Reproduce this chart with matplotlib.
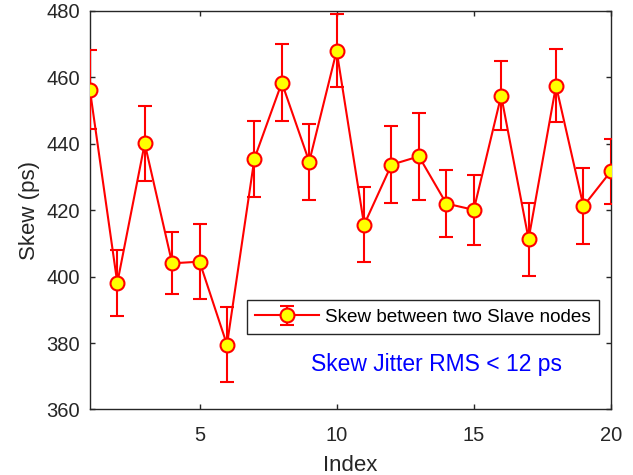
"""
Skew entre dos nodos Slave con barras de error, estilo MATLAB.
"""
import matplotlib
matplotlib.use("Agg")
import matplotlib.pyplot as plt

plt.rcParams["font.family"] = ["Liberation Sans", "DejaVu Sans"]

# Datos
index = list(range(1, 21))
skew = [456.3, 398.1, 440.1, 404.0, 404.5, 379.5, 435.5, 458.4, 434.6, 468.0,
        415.6, 433.7, 436.2, 422.0, 420.1, 454.5, 411.3, 457.5, 421.2, 431.7]
err = [12.0, 10.0, 11.3, 9.3, 11.2, 11.2, 11.5, 11.6, 11.5, 11.0,
       11.3, 11.6, 13.0, 10.0, 10.5, 10.5, 11.0, 11.0, 11.5, 9.7]

AXIS_COLOR = "#262626"

fig = plt.figure(figsize=(6.33, 4.75), dpi=100)
ax = fig.add_axes([0.142, 0.138, 0.823, 0.839])

ax.errorbar(index, skew, yerr=err, color="red", linewidth=1.5,
            elinewidth=1.5, capsize=4.7, capthick=1.5,
            marker="o", markersize=10, markerfacecolor="yellow",
            markeredgecolor="red", markeredgewidth=1.5,
            label="Skew between two Slave nodes", zorder=3)

# Anotacion en azul (coordenadas de figura)
fig.text(0.690, 0.219, "Skew Jitter RMS < 12 ps",
         ha="center", va="baseline", color="blue", fontsize=16.5)

ax.set_xlim(1, 20)
ax.set_ylim(360, 480)
ax.set_xticks([5, 10, 15, 20])
ax.set_yticks(range(360, 481, 20))
ax.tick_params(direction="in", length=3.5, width=1, colors=AXIS_COLOR,
               labelsize=14.5, top=True, right=True)
ax.tick_params(axis="y", pad=7)
ax.tick_params(axis="x", pad=12)
for sp in ax.spines.values():
    sp.set_color(AXIS_COLOR)
    sp.set_linewidth(1)

ax.set_xlabel("Index", fontsize=16, color=AXIS_COLOR, labelpad=7)
ax.set_ylabel("Skew (ps)", fontsize=16, color=AXIS_COLOR, labelpad=5)

leg = ax.legend(loc="upper left", bbox_to_anchor=(0.301, 0.274),
                fontsize=13.6, frameon=True, fancybox=False,
                handlelength=3.4, borderpad=0.45, handletextpad=0.3,
                borderaxespad=0)
leg.get_frame().set_edgecolor(AXIS_COLOR)
leg.get_frame().set_linewidth(1)
leg.get_frame().set_alpha(1)

fig.savefig("out.png", dpi=100)
plt.close(fig)
